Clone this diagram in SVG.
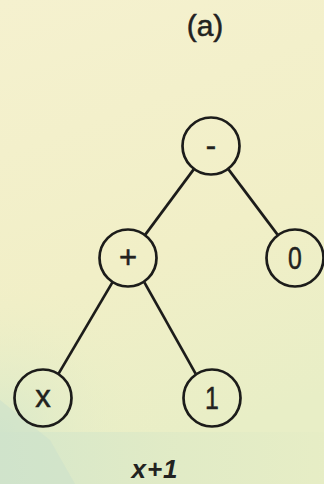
<svg xmlns="http://www.w3.org/2000/svg" width="324" height="484" viewBox="0 0 324 484">
  <defs>
    <linearGradient id="bg" x1="0" y1="0" x2="0.25" y2="1">
      <stop offset="0" stop-color="#f5f1cf"/>
      <stop offset="0.6" stop-color="#f1efc7"/>
      <stop offset="1" stop-color="#e8eec6"/>
    </linearGradient>
    <linearGradient id="band" x1="0" y1="0" x2="1" y2="0">
      <stop offset="0" stop-color="#d3e6cb"/>
      <stop offset="0.5" stop-color="#dfeac6"/>
      <stop offset="1" stop-color="#e6edc5"/>
    </linearGradient>
    <radialGradient id="leftShade" cx="0" cy="1" r="1">
      <stop offset="0" stop-color="#d6e8ca" stop-opacity="0.9"/>
      <stop offset="1" stop-color="#eef0c6" stop-opacity="0"/>
    </radialGradient>
    <style>
      .edge { stroke: #1c1c1a; stroke-width: 2.7; fill: none; }
      .node circle { fill: none; stroke: #1c1c1a; stroke-width: 2.7; }
      .node text { font-family: "Liberation Sans", Arial, sans-serif; font-size: 31px; fill: #222220; stroke: #222220; stroke-width: 0.5; text-anchor: middle; }
      .title { font-family: "Liberation Sans", Arial, sans-serif; font-size: 30px; fill: #222220; stroke: #222220; stroke-width: 0.5; text-anchor: middle; }
      .caption { font-family: "Liberation Sans", Arial, sans-serif; font-size: 26px; font-style: italic; font-weight: bold; fill: #222220; text-anchor: middle; letter-spacing: 1px; }
    </style>
  </defs>

  <!-- background -->
  <rect width="324" height="484" fill="url(#bg)"/>
  <rect x="0" y="280" width="160" height="152" fill="url(#leftShade)"/>
  <rect x="0" y="432" width="324" height="52" fill="url(#band)" opacity="0.85"/>
  <polygon points="0,400 50,440 75,484 0,484" fill="#c9e0cc" opacity="0.5"/>

  <text class="title" x="205" y="36">(a)</text>

  <!-- connectors -->
  <g id="edges">
    <line class="edge" x1="193.7" y1="169.4" x2="145.3" y2="234.6"/>
    <line class="edge" x1="228.5" y1="169.4" x2="277.5" y2="234.6"/>
    <line class="edge" x1="112.4" y1="282.4" x2="58.6" y2="373.6"/>
    <line class="edge" x1="144.4" y1="282.4" x2="195.6" y2="373.6"/>
  </g>

  <!-- nodes -->
  <g id="node-minus" class="node">
    <circle cx="211" cy="146" r="28.5"/>
    <text x="211" y="156">-</text>
  </g>
  <g id="node-plus" class="node">
    <circle cx="128" cy="258" r="28.5"/>
    <text x="128" y="268">+</text>
  </g>
  <g id="node-zero" class="node">
    <circle cx="295" cy="258" r="28.5"/>
    <text x="295" y="269" transform="translate(295 258) scale(0.8 1) translate(-295 -258)">0</text>
  </g>
  <g id="node-x" class="node">
    <circle cx="43" cy="398" r="28.5"/>
    <text x="43" y="407">x</text>
  </g>
  <g id="node-one" class="node">
    <circle cx="212" cy="398" r="28.5"/>
    <text x="212" y="409" transform="translate(212 398) scale(0.8 1) translate(-212 -398)">1</text>
  </g>

  <text class="caption" x="155" y="478">x+1</text>
</svg>
